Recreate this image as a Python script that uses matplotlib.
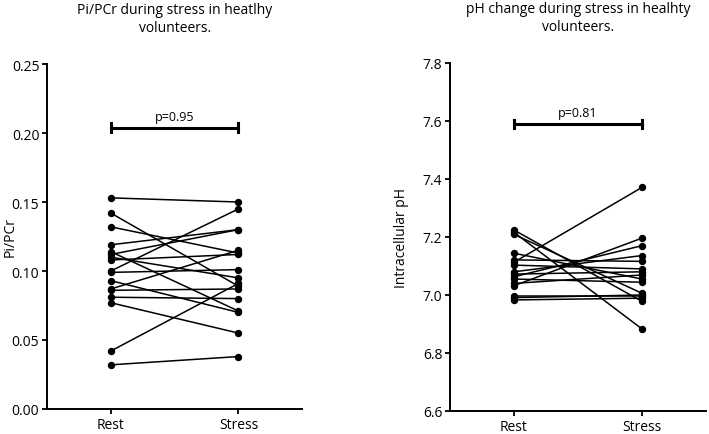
import matplotlib.pyplot as plt
from matplotlib.ticker import FormatStrFormatter

plt.rcParams["font.family"] = ["Open Sans", "DejaVu Sans"]

# ── data ───────────────────────────────────────────────────────────────────
conditions = ["Rest", "Stress"]

pi_pcr_rest = [0.153, 0.142, 0.132, 0.119, 0.114, 0.112, 0.110, 0.108, 0.100,
               0.099, 0.093, 0.087, 0.086, 0.081, 0.077, 0.042, 0.032]
pi_pcr_stress = [0.150, 0.089, 0.113, 0.130, 0.071, 0.130, 0.095, 0.112, 0.145,
                 0.101, 0.070, 0.115, 0.087, 0.080, 0.055, 0.091, 0.038]
pi_pcr_p = "p=0.95"
pi_pcr_bar = 0.204

ph_rest = [7.224, 7.216, 7.209, 7.144, 7.121, 7.113, 7.103, 7.080,
           7.072, 7.063, 7.055, 7.040, 7.032, 6.998, 6.991, 6.983]
ph_stress = [6.978, 6.883, 7.006, 7.055, 7.116, 7.371, 7.090, 7.136,
             7.080, 7.170, 7.044, 7.069, 7.196, 6.998, 7.000, 6.989]
ph_p = "p=0.81"
ph_bar = 7.59


def paired_panel(ax, rest, stress, p_text, bar_y, cap, title, ylabel,
                 label_x, ylim, yticks, fmt):
    for r, s in zip(rest, stress):
        ax.plot([0, 1], [r, s], color="black", linewidth=1.1,
                marker="o", markersize=4.3, zorder=3)
    # significance bracket
    ax.plot([0, 1], [bar_y, bar_y], color="black", linewidth=2.2)
    ax.plot([0, 0], [bar_y - cap, bar_y + cap], color="black", linewidth=2.2)
    ax.plot([1, 1], [bar_y - cap, bar_y + cap], color="black", linewidth=2.2)
    ax.text(0.5, bar_y + cap * 1.2, p_text, ha="center", va="bottom", fontsize=9)

    ax.set_xlim(-0.5, 1.5)
    ax.set_ylim(*ylim)
    ax.set_yticks(yticks)
    ax.yaxis.set_major_formatter(FormatStrFormatter(fmt))
    ax.set_xticks([0, 1])
    ax.set_xticklabels(conditions)
    ax.tick_params(labelsize=10, width=1.3, length=3.5, pad=2)
    ax.set_ylabel(ylabel, fontsize=10)
    ax.yaxis.set_label_coords(label_x, 0.5)
    ax.set_title(title, fontsize=10, pad=24)
    ax.spines[["top", "right"]].set_visible(False)
    ax.spines[["left", "bottom"]].set_linewidth(1.4)


fig = plt.figure(figsize=(7.09, 4.35), dpi=100)
ax1 = fig.add_axes([0.0663, 0.0575, 0.36, 0.793])
ax2 = fig.add_axes([0.6347, 0.0529, 0.361, 0.80])

paired_panel(ax1, pi_pcr_rest, pi_pcr_stress, pi_pcr_p, pi_pcr_bar, 0.003,
             "Pi/PCr during stress in heatlhy\nvolunteers.", "Pi/PCr", -0.115,
             (0, 0.25), [0, 0.05, 0.10, 0.15, 0.20, 0.25], "%.2f")
paired_panel(ax2, ph_rest, ph_stress, ph_p, ph_bar, 0.014,
             "pH change during stress in healhty\nvolunteers.", "Intracellular pH",
             -0.16, (6.6, 7.8), [6.6, 6.8, 7.0, 7.2, 7.4, 7.6, 7.8], "%.1f")

plt.savefig("out.png", dpi=100)
